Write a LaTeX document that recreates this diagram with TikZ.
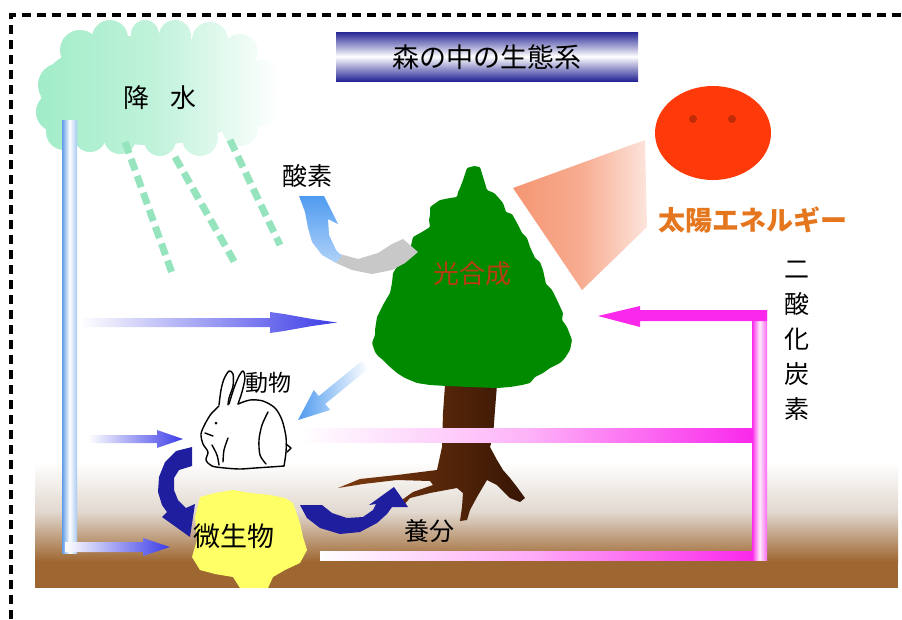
\documentclass[tikz,border=0pt]{standalone}
\usepackage{fontspec}
\newfontfamily\jpfont{Noto Sans CJK JP}
\definecolor{navyband}{RGB}{38,38,150}
\definecolor{mint}{RGB}{160,236,200}
\definecolor{rainmint}{RGB}{150,228,190}
\definecolor{pipeblue}{RGB}{95,155,230}
\definecolor{flowblue}{RGB}{60,60,232}
\definecolor{magentaflow}{RGB}{250,40,235}
\definecolor{leafgreen}{RGB}{0,138,0}
\definecolor{barklight}{RGB}{125,58,16}
\definecolor{barkdark}{RGB}{55,22,4}
\definecolor{sunred}{RGB}{255,58,10}
\definecolor{sunbeam}{RGB}{245,150,115}
\definecolor{soil}{RGB}{158,102,48}
\definecolor{soilmid}{RGB}{225,216,207}
\definecolor{cyclenavy}{RGB}{30,30,158}
\definecolor{skyarrow}{RGB}{80,155,240}
\definecolor{oxygray}{RGB}{200,200,200}
\definecolor{microbe}{RGB}{255,255,102}
\definecolor{energytext}{RGB}{228,118,30}
\definecolor{phototext}{RGB}{185,60,20}
\begin{document}
\begin{tikzpicture}[x=1pt,y=-1pt,
  txt/.style={font=\jpfont\fontsize{#1}{#1}\selectfont, inner sep=0pt},
  rabbitline/.style={line width=1.4pt, line join=round, line cap=round}]
\useasboundingbox (0,0) rectangle (902,619);

% dashed frame (top and left edges)
\draw[line width=3.5pt, dash pattern=on 9pt off 6pt] (11,619) -- (11,15) -- (902,15);

% ground: white fading into soil
\shade[top color=white, bottom color=soil, middle color=soilmid] (35,462) rectangle (898,562);
\fill[soil] (35,561) rectangle (898,588);

% rain cloud
\shade[left color=mint, right color=white, middle color=mint!65!white]
  (150,90) ellipse[x radius=110pt, y radius=55pt]
  (60,85) circle[radius=22pt] (56,112) circle[radius=20pt] (64,132) circle[radius=18pt]
  (80,50) circle[radius=20pt] (110,38) circle[radius=18pt] (145,34) circle[radius=14pt]
  (175,36) circle[radius=16pt] (210,40) circle[radius=18pt] (240,52) circle[radius=18pt]
  (262,78) circle[radius=18pt] (262,108) circle[radius=18pt] (240,128) circle[radius=18pt]
  (200,138) circle[radius=18pt] (160,140) circle[radius=16pt] (120,138) circle[radius=16pt]
  (90,136) circle[radius=16pt];

% rain streaks
\begin{scope}[rainmint, line width=7pt, dash pattern=on 12pt off 6pt]
  \draw (125,142) -- (172,273);
  \draw (175,157) -- (235,263);
  \draw (230,140) -- (280,245);
\end{scope}

% water pipe on the left
\shade[left color=pipeblue, right color=pipeblue!55!white, middle color=white] (62,120) rectangle (77,553);

% water flows (blue arrows)
\shade[left color=white, right color=flowblue]
  (80,318) -- (270,318) -- (270,312) -- (284,314) -- (312,319) -- (337,322.5) -- (312,326) -- (284,331) -- (270,333) -- (270,327) -- (80,327) -- cycle;
\shade[left color=white, right color=flowblue]
  (88,435) -- (157,435) -- (157,430) -- (183,439) -- (157,448) -- (157,443) -- (88,443) -- cycle;
\shade[left color=white, right color=flowblue]
  (65,542) -- (143,542) -- (143,538) -- (170,547) -- (143,556) -- (143,552) -- (65,552) -- cycle;

% carbon dioxide pipe and flows
\shade[left color=magentaflow, right color=magentaflow!70!white, middle color=magentaflow!8!white] (752,310) rectangle (767,560);
\fill[magentaflow] (767,310) -- (640,310) -- (640,306) -- (598,316) -- (640,327) -- (640,321) -- (767,321) -- cycle;
\shade[left color=white, right color=magentaflow, middle color=magentaflow!40!white] (320,551) rectangle (752,560);

% tree trunk and roots
\shade[left color=barklight, right color=barkdark]
  (445,385) -- (497,385) -- (495,410) -- (493,437) -- (490,447) -- (497,460) -- (503,470) -- (510,478)
  -- (517,487) -- (525,498) -- (520,502) -- (510,498) -- (497,485) -- (487,480) -- (477,497) -- (470,510)
  -- (467,520) -- (460,521) -- (462,507) -- (463,493) -- (457,488) -- (430,493) -- (410,498) -- (402,507)
  -- (399,502) -- (413,492) -- (433,485) -- (430,481) -- (397,480) -- (363,484) -- (338,488) -- (360,479)
  -- (397,475) -- (437,470) -- (442,447) -- (443,413) -- cycle;

% tree crown
\fill[leafgreen, rounded corners=1pt]
  (463,180) -- (467,168) -- (474,166) -- (480,167) -- (484,180) -- (487,190) -- (494,193) -- (497,196)
  -- (503,203) -- (506,212) -- (512,214) -- (517,223) -- (522,233) -- (527,238) -- (530,247) -- (535,258)
  -- (540,262) -- (543,270) -- (546,284) -- (552,290) -- (557,300) -- (563,313) -- (562,320) -- (567,327)
  -- (572,340) -- (570,350) -- (565,358) -- (560,363) -- (550,368) -- (543,373) -- (535,377) -- (530,383)
  -- (522,385) -- (510,387) -- (497,388) -- (470,387) -- (447,386) -- (430,385) -- (417,383) -- (405,378)
  -- (397,373) -- (390,367) -- (383,360) -- (378,356) -- (375,352) -- (372,343) -- (375,335) -- (375,330)
  -- (377,317) -- (383,305) -- (387,298) -- (390,293) -- (392,283) -- (393,273) -- (400,262) -- (406,258)
  -- (410,250) -- (413,237) -- (422,232) -- (430,227) -- (429,220) -- (430,215) -- (430,207) -- (440,200)
  -- (450,198) -- (457,197) -- (458,192) -- (460,188) -- cycle;

% carbon dioxide from the animal level, passing in front of the trunk
\shade[left color=white, right color=magentaflow, middle color=magentaflow!35!white] (300,428) rectangle (752,442);

% sunlight beam and sun
\shade[left color=sunbeam, right color=sunbeam!25!white, middle color=sunbeam!80!white] (513,188) -- (645,140) -- (647,227) -- (582,290) -- cycle;
\fill[sunred] (713,133) ellipse[x radius=58pt, y radius=47pt];
\fill[sunred!75!black] (693,119) circle[radius=4pt] (732,119) circle[radius=4pt];

% oxygen released by the tree
\fill[oxygray] (340,254) -- (358,259) -- (378,253) -- (392,244) -- (403,239) -- (418,252)
  -- (405,263) -- (392,270) -- (372,274) -- (352,270) -- (336,263) -- cycle;
\shade[top color=skyarrow, bottom color=skyarrow!45!white]
  (299,196) -- (324,196) -- (338,224) -- (328,219) -- (329,235) -- (336,250) -- (342,256)
  -- (336,263) -- (322,255) -- (312,242) -- (308,228) -- (305,212) -- cycle;

% food from the tree to the animal
\shade[left color=skyarrow, right color=white]
  (361.8,361.1) -- (318.8,396.1) -- (313.8,390) -- (298,420) -- (330.2,410) -- (325.2,403.9) -- (368.2,368.9) -- cycle;

% animal to micro-organisms
\fill[cyclenavy] (192,447) -- (176,451) -- (165,462) -- (159,477) -- (158,492) -- (162,505) -- (167,512)
  -- (162,517) -- (190,537) -- (195,504) -- (186,508) -- (178,500) -- (174,490) -- (174,478) -- (179,470)
  -- (192,466) -- cycle;

% micro-organisms
\fill[microbe] (195,517) -- (200,497) -- (215,493) -- (233,490) -- (250,493) -- (270,495) -- (285,498)
  -- (293,503) -- (300,523) -- (303,537) -- (307,550) -- (300,563) -- (285,570) -- (273,577) -- (268,588)
  -- (240,588) -- (233,577) -- (215,574) -- (200,570) -- (192,557) -- (197,540) -- cycle;

% nutrients back to the tree roots
\fill[cyclenavy] (300,505) -- (322,505) -- (332,513) -- (347,518) -- (363,517) -- (373,510) -- (376,504)
  -- (369,505) -- (394,487) -- (408,507) -- (392,507) -- (387,514) -- (377,523) -- (360,532) -- (340,534)
  -- (320,528) -- (307,518) -- cycle;

% rabbit
\fill[white] (219,406) .. controls (205,420) and (198,440) .. (208,452) -- (206,460) -- (212,466)
  -- (284,466) .. controls (288,440) and (285,405) .. (250,400) -- cycle;
\begin{scope}[rabbitline]
  \draw plot[smooth] coordinates {(219,405) (221,390) (224,379) (229,371) (233,374) (233,386) (229,398) (228,405)};
  \draw plot[smooth] coordinates {(229,404) (234,388) (239,376) (243,371) (245,378) (242,392) (238,404)};
  \draw plot[smooth] coordinates {(219,406) (211,414) (205,424) (201,434) (203,444) (208,452) (206,460) (212,466) (225,468) (240,469) (255,468) (270,467) (284,466)};
  \draw plot[smooth] coordinates {(238,404) (250,400) (263,401) (275,408) (282,420) (286,437) (286,452) (284,466)};
  \draw plot[smooth] coordinates {(268,412) (262,425) (259,440) (260,455) (266,464)};
  \draw plot[smooth] coordinates {(228,438) (224,450) (223,462)};
  \draw plot[smooth] coordinates {(212,445) (217,455) (219,465)};
  \draw (286,444) -- (291,448) -- (287,452);
  \draw (205,433) -- (213,436);
  \fill (216,423) circle[radius=1.5pt];
\end{scope}

% title
\shade[top color=navyband, bottom color=navyband, middle color=white] (336,32) rectangle (638,81);
\node[txt=27] (title) at (487,57) {森の中の生態系};

% labels
\node[txt=26] (precip) at (160,98) {降\hspace{21pt}水};
\node[txt=25] (oxygen) at (307,176) {酸素};
\node[txt=26, text=phototext] (photosynthesis) at (472,274) {光合成};
\node[txt=27, text=energytext] (solar) at (753,220) {\bfseries 太陽エネルギー};
\node[font=\jpfont\fontsize{25}{35}\selectfont, inner sep=0pt, align=center] (co2) at (797,341) {二\\酸\\化\\炭\\素};
\node[txt=23] (animal) at (268,383) {動物};
\node[txt=27] (microorganisms) at (234,536) {微生物};
\node[txt=25] (nutrients) at (429,531) {養分};
\end{tikzpicture}
\end{document}
